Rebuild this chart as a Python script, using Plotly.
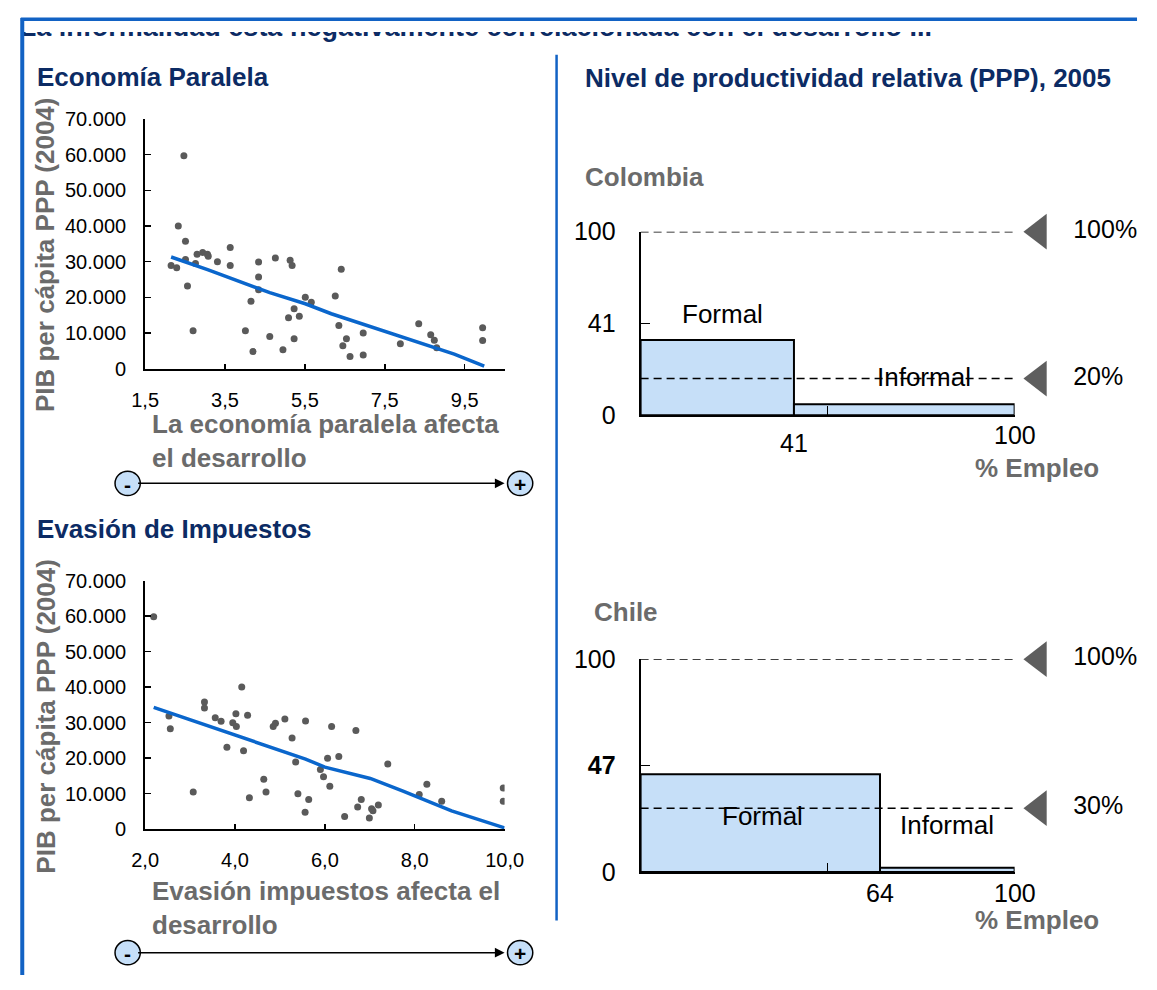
import plotly.graph_objects as go

W, H = 1157, 990
NAVY = "#0c2b64"
GRAY = "#6b6b6b"
DOT = "#5a5a5a"
LINE_BLUE = "#0a66cc"
FRAME_BLUE = "#1262c4"
BAR_FILL = "#c6dff8"
FONT = "Liberation Sans, Arial, sans-serif"

# Economía Paralela (x: score, y: PIB per cápita PPP 2004)
par_x = [2.47, 2.33, 2.51, 2.15, 2.29, 2.51, 2.76, 2.56, 2.70, 2.80, 2.94, 3.06, 3.08, 3.31, 3.63, 3.63,
         4.15, 4.01, 4.20, 4.34, 4.34, 4.34, 4.62, 4.76, 4.95, 5.13, 5.18, 5.23, 5.09, 5.36, 5.23, 5.51,
         5.66, 6.26, 6.41, 6.35, 6.54, 6.45, 6.63, 6.96, 6.96, 7.89, 8.35, 8.65, 8.74, 8.80, 9.95, 9.95]
par_y = [59700, 40000, 35700, 28900, 28300, 30600, 29500, 23200, 10600, 32100, 32600, 32100, 31500, 30000,
         34000, 28900, 18900, 10600, 4800, 29900, 25700, 22100, 9000, 31000, 5300, 30400, 28900, 16800,
         14300, 14700, 8400, 20000, 18600, 20400, 27900, 12100, 8400, 6400, 3400, 10000, 3800, 7000,
         12600, 9500, 8000, 5900, 11500, 7900]
par_trend_x = [2.15, 3.08, 4.62, 5.51, 6.16, 7.54, 9.24, 9.99]
par_trend_y = [31300, 27700, 21300, 18200, 15400, 10400, 4100, 700]
par_ticks = [1.5, 3.5, 5.5, 7.5, 9.5]

# Evasión de Impuestos
eva_x = [2.19, 2.53, 2.56, 3.07, 3.32, 3.32, 3.56, 3.69, 3.82, 3.95, 4.02, 4.03, 4.15, 4.19, 4.28, 4.32,
         4.64, 4.69, 4.85, 4.90, 5.11, 5.27, 5.35, 5.40, 5.57, 5.64, 5.56, 5.90, 5.97, 6.15, 6.06, 6.31,
         6.11, 6.69, 6.44, 6.81, 6.73, 6.99, 7.04, 7.07, 7.19, 7.40, 8.10, 8.27, 8.60, 9.97, 9.97]
eva_y = [59800, 31900, 28300, 10500, 35800, 34100, 31400, 30400, 23100, 30000, 32500, 28900, 40000, 22100,
         32100, 8900, 14100, 10500, 28900, 29800, 31000, 25700, 18900, 10000, 30500, 8400, 4800, 16800,
         14800, 28900, 20000, 20500, 12100, 27800, 3600, 8400, 6300, 3200, 5800, 5200, 6800, 18400, 9800,
         12700, 7900, 11600, 7900]
eva_trend_x = [2.19, 3.84, 5.57, 6.0, 7.01, 7.74, 8.82, 10.0]
eva_trend_y = [34300, 27100, 19750, 17500, 14300, 10700, 5200, 400]
eva_ticks = [2, 4, 6, 8, 10]

# Productividad relativa: % empleo y productividad de cada sector
sectors = ["Formal", "Informal"]
col_share = [41, 59]
col_prod = [41, 6]
col_ref = [100, 20]
col_ref_text = ["100%", "20%"]
col_ylabels = ["0", "41", "100"]
chi_share = [64, 36]
chi_prod = [46, 2]
chi_ref = [100, 30]
chi_ref_text = ["100%", "30%"]
chi_ylabels = ["0", "<b>47</b>", "100"]

page_title = "La informalidad está negativamente correlacionada con el desarrollo ..."


def px(x):
    return x / W


def py(y):
    return 1 - y / H


fig = go.Figure()

# scatter panels
for (xs, ys, tx, ty, ax) in [(par_x, par_y, par_trend_x, par_trend_y, ""),
                             (eva_x, eva_y, eva_trend_x, eva_trend_y, "2")]:
    fig.add_trace(go.Scatter(x=xs, y=ys, mode="markers", xaxis="x" + ax, yaxis="y" + ax,
                             marker=dict(size=7, color=DOT), showlegend=False))
    fig.add_trace(go.Scatter(x=tx, y=ty, mode="lines", xaxis="x" + ax, yaxis="y" + ax,
                             line=dict(color=LINE_BLUE, width=3.5), showlegend=False))


# mekko-style bars, reference lines and markers
def add_bars(share, prod, ref, ref_text, ax, ax_side, label_y):
    left = [sum(share[:i]) for i in range(len(share))]
    centers = [l + s / 2 for l, s in zip(left, share)]
    fig.add_trace(go.Bar(x=centers, y=prod, width=share, xaxis="x" + ax, yaxis="y" + ax,
                         marker=dict(color=BAR_FILL, line=dict(color="black", width=2)),
                         showlegend=False))
    for r in ref:
        fig.add_trace(go.Scatter(x=[0, 100], y=[r, r], mode="lines", xaxis="x" + ax, yaxis="y" + ax,
                                 line=dict(color="black", width=1.5, dash="8px,5px"), showlegend=False))
    fig.add_trace(go.Scatter(x=[106.5] * len(ref), y=ref, mode="markers+text", xaxis="x" + ax_side,
                             yaxis="y" + ax, text=["  " + t for t in ref_text], cliponaxis=False,
                             textposition="middle right", textfont=dict(size=25, color="black"),
                             marker=dict(symbol="triangle-left", size=31, color="#5e5e5e"),
                             showlegend=False))
    # x labels: end of formal share and 100
    ends = [left[1], 100]
    for x, lab_y in zip(ends, label_y):
        fig.add_annotation(x=x, y=py(lab_y), xref="x" + ax, yref="paper", text=str(x), showarrow=False,
                           yanchor="middle", font=dict(size=25, color="black"))


add_bars(col_share, col_prod, col_ref, col_ref_text, "3", "5", [442, 433])
add_bars(chi_share, chi_prod, chi_ref, chi_ref_text, "4", "6", [905, 905])

# page title (only its lower strip shows, as in the cropped slide)
fig.add_trace(go.Scatter(x=[6], y=[44], mode="text", text=[f"<b>{page_title}</b>"], xaxis="x7", yaxis="y7",
                         textposition="middle right", textfont=dict(size=27, color=NAVY),
                         cliponaxis=True, showlegend=False))

left_axis = dict(showline=True, linecolor="black", linewidth=2, ticks="inside", tickwidth=1.5,
                 tickcolor="black", showgrid=False, zeroline=False,
                 tickfont=dict(size=20, color="black"))
right_axis = dict(showline=True, linecolor="black", linewidth=2, ticks="inside", ticklen=9,
                  tickwidth=1.5, tickcolor="black", showgrid=False, zeroline=False,
                  tickfont=dict(size=25, color="black"))
side_axis = dict(visible=False, range=[0, (1150 - 645) / 3.85], domain=[px(645), px(1150)], showgrid=False)

fig.update_layout(
    width=W, height=H, margin=dict(l=0, r=0, t=0, b=0),
    paper_bgcolor="white", plot_bgcolor="rgba(0,0,0,0)",
    font=dict(family=FONT), separators=",.",
    xaxis=dict(left_axis, domain=[px(135), px(505)], range=[1.5, 10.5], tickvals=par_ticks,
               tickformat=".1f", ticklen=5, anchor="y", ticklabelstandoff=12),
    yaxis=dict(left_axis, domain=[py(365), py(108)], range=[0, 70000], dtick=10000,
               tickformat=",d", ticklen=6, anchor="x", ticklabelstandoff=13),
    xaxis2=dict(left_axis, domain=[px(135), px(505)], range=[2, 10], tickvals=eva_ticks,
                tickformat=".1f", ticklen=5, anchor="y2", ticklabelstandoff=12),
    yaxis2=dict(left_axis, domain=[py(839), py(583)], range=[0, 70000], dtick=10000,
                tickformat=",d", ticklen=6, anchor="x2", ticklabelstandoff=13),
    xaxis3=dict(right_axis, domain=[px(645), px(1030)], range=[0, 100], tickvals=[50, 100],
                showticklabels=False, anchor="y3"),
    yaxis3=dict(right_axis, domain=[py(413), py(224)], range=[0, 100], tickvals=[0, 50, 100],
                ticktext=col_ylabels, anchor="x3", ticklabelstandoff=18),
    xaxis4=dict(right_axis, domain=[px(645), px(1030)], range=[0, 100], tickvals=[50, 100],
                showticklabels=False, anchor="y4"),
    yaxis4=dict(right_axis, domain=[py(883), py(664)], range=[0, 100], tickvals=[0, 50, 100],
                ticktext=chi_ylabels, anchor="x4", ticklabelstandoff=18),
    xaxis5=dict(side_axis, anchor="y3"),
    xaxis6=dict(side_axis, anchor="y4"),
    xaxis7=dict(visible=False, domain=[px(2), px(1150)], range=[2, 1150], anchor="y7"),
    yaxis7=dict(visible=False, domain=[py(60), py(1)], range=[0, 59], anchor="x7"),
)


def text(x, y, t, size=26, color="black", bold=False, xanchor="left", angle=0):
    fig.add_annotation(x=px(x), y=py(y), xref="paper", yref="paper", text=f"<b>{t}</b>" if bold else t,
                       showarrow=False, xanchor=xanchor, yanchor="middle", align="left", textangle=angle,
                       font=dict(size=size, color=color, family=FONT))


# titles
text(22, 65, "Economía Paralela", 26, NAVY, True)
text(22, 530, "Evasión de Impuestos", 26, NAVY, True)
text(586, 66, "Nivel de productividad relativa (PPP), 2005", 26, NAVY, True)

# left axis titles
text(32, 248, "PIB per cápita PPP (2004)", 26, GRAY, True, "center", -90)
text(32, 723, "PIB per cápita PPP (2004)", 26, GRAY, True, "center", -90)
text(140, 439, "La economía paralela afecta<br>el desarrollo", 26, GRAY, True)
text(140, 920, "Evasión impuestos afecta el<br>desarrollo", 26, GRAY, True)

# right panel labels
text(586, 168, "Colombia", 26, GRAY, True)
text(595, 615, "Chile", 26, GRAY, True)
text(1053, 467, "% Empleo", 26, GRAY, True, "center")
text(1053, 932, "% Empleo", 26, GRAY, True, "center")
for (x, y, t, ax) in [(21.8, 55, "Formal", "3"), (75.8, 21, "Informal", "3"),
                      (32.7, 26.5, "Formal", "4"), (81.8, 22, "Informal", "4")]:
    fig.add_annotation(x=x, y=y, xref="x" + ax, yref="y" + ax, text=t, showarrow=False,
                       font=dict(size=26, color="black"))

# -/+ arrows under the scatter panels
for cy in [483, 966]:
    fig.add_annotation(x=px(505), y=py(cy), xref="paper", yref="paper", ax=-368, ay=0, text="",
                       showarrow=True, arrowhead=2, arrowsize=1.3, arrowwidth=1.5, arrowcolor="black")
    for cx, sign in [(117, "-"), (521, "+")]:
        fig.add_shape(type="circle", xref="paper", yref="paper", x0=px(cx - 13), x1=px(cx + 13),
                      y0=py(cy + 12.5), y1=py(cy - 12.5), fillcolor=BAR_FILL,
                      line=dict(color="black", width=1.5))
        text(cx, cy + 1, sign, 21, "black", True, "center")

# white band hiding the upper part of the page title
fig.add_shape(type="rect", xref="paper", yref="paper", x0=px(1), x1=px(1156), y0=py(18.5), y1=py(0.5),
              fillcolor="white", line=dict(width=0), layer="above")

# frame lines
fig.add_shape(type="line", xref="paper", yref="paper", x0=px(7), x1=px(1156), y0=py(5.5), y1=py(5.5),
              line=dict(color=FRAME_BLUE, width=3.5))
fig.add_shape(type="line", xref="paper", yref="paper", x0=px(8.5), x1=px(8.5), y0=py(4), y1=py(989),
              line=dict(color=FRAME_BLUE, width=4))
fig.add_shape(type="line", xref="paper", yref="paper", x0=px(558.5), x1=px(558.5), y0=py(42), y1=py(933),
              line=dict(color=FRAME_BLUE, width=2.5))

# pin the page to exactly the figure size so nothing shifts or scrolls
pin = ("var s='margin:0;padding:0;overflow:hidden;width:1157px;height:990px';"
       "document.documentElement.style.cssText=s;document.body.style.cssText=s;"
       "var gd=document.getElementById('{plot_id}');"
       "gd.style.position='absolute';gd.style.left='0px';gd.style.top='0px';")
fig.write_html("out.html", config={"displayModeBar": False, "staticPlot": True}, post_script=pin)
